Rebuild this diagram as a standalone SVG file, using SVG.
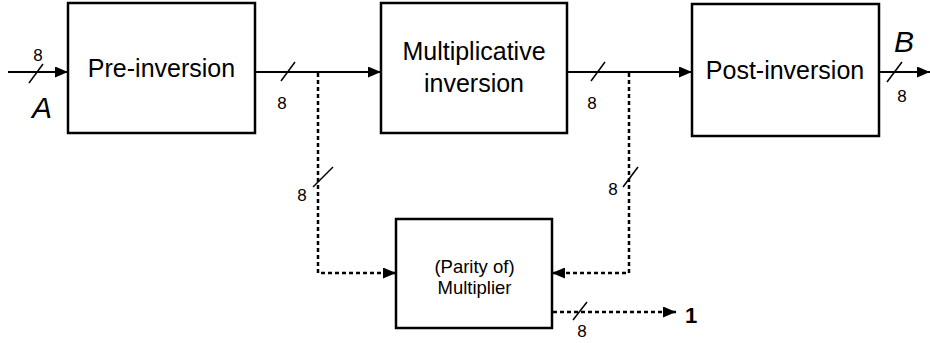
<svg xmlns="http://www.w3.org/2000/svg" width="930" height="343" viewBox="0 0 930 343">
  <style>
    .box { fill: #ffffff; stroke: #000000; stroke-width: 2.5; }
    .label { font-family: "Liberation Sans", Arial, sans-serif; font-size: 25px; fill: #000000; text-anchor: middle; }
    .small { font-family: "Liberation Sans", Arial, sans-serif; font-size: 18.5px; fill: #000000; text-anchor: middle; }
    .width { font-family: "Liberation Sans", Arial, sans-serif; font-size: 17px; fill: #000000; text-anchor: middle; }
    .var { font-family: "Liberation Sans", Arial, sans-serif; font-size: 30px; font-style: italic; fill: #000000; text-anchor: middle; }
    .bit { font-family: "Liberation Sans", Arial, sans-serif; font-size: 22px; font-weight: bold; fill: #000000; text-anchor: middle; }
    .solid { fill: none; stroke: #000000; stroke-width: 2; }
    .dashed { fill: none; stroke: #000000; stroke-width: 2.5; stroke-dasharray: 4 3; }
    .tick { fill: none; stroke: #000000; stroke-width: 1.5; }
  </style>
  <defs>
    <marker id="arrow" markerUnits="userSpaceOnUse" markerWidth="13" markerHeight="11" refX="13" refY="5.5" orient="auto">
      <path d="M0,0 L13,5.5 L0,11 Z" fill="#000000"/>
    </marker>
  </defs>

  <!-- processing blocks -->
  <g id="pre-inversion">
    <rect class="box" x="68" y="3" width="187" height="130"/>
    <text class="label" x="161.5" y="77">Pre-inversion</text>
  </g>
  <g id="multiplicative-inversion">
    <rect class="box" x="381" y="3" width="186" height="130"/>
    <text class="label" x="474" y="60">Multiplicative</text>
    <text class="label" x="474" y="92">inversion</text>
  </g>
  <g id="post-inversion">
    <rect class="box" x="692" y="4" width="187" height="132"/>
    <text class="label" x="785" y="79">Post-inversion</text>
  </g>
  <g id="multiplier">
    <rect class="box" x="396" y="219" width="156" height="109"/>
    <text class="small" x="474.5" y="273">(Parity of)</text>
    <text class="small" x="474.5" y="294">Multiplier</text>
  </g>

  <!-- signal names -->
  <g id="io-labels">
    <text class="var" x="42" y="118">A</text>
    <text class="var" x="904" y="52">B</text>
    <text class="bit" x="691" y="323">1</text>
  </g>

  <!-- connectors with bus-width ticks -->
  <g id="connectors">
    <line class="solid" x1="8" y1="72" x2="68" y2="72" marker-end="url(#arrow)"/>
    <line class="solid" x1="255" y1="72" x2="381" y2="72" marker-end="url(#arrow)"/>
    <line class="solid" x1="567" y1="72" x2="692" y2="72" marker-end="url(#arrow)"/>
    <line class="solid" x1="879" y1="72" x2="930" y2="72" marker-end="url(#arrow)"/>

    <polyline class="dashed" points="318,73 318,273 396,273" marker-end="url(#arrow)"/>
    <polyline class="dashed" points="629,73 629,273 552,273" marker-end="url(#arrow)"/>
    <line class="dashed" x1="553" y1="312" x2="676" y2="312" marker-end="url(#arrow)"/>

    <line class="tick" x1="29" y1="83" x2="43" y2="64"/>
    <line class="tick" x1="281" y1="81" x2="295" y2="62"/>
    <line class="tick" x1="591" y1="81" x2="605" y2="62"/>
    <line class="tick" x1="887" y1="82" x2="902" y2="62"/>
    <line class="tick" x1="313" y1="187" x2="333" y2="167"/>
    <line class="tick" x1="623" y1="187" x2="638" y2="167"/>
    <line class="tick" x1="573" y1="320" x2="587" y2="302"/>

    <text class="width" x="38" y="61">8</text>
    <text class="width" x="282" y="109">8</text>
    <text class="width" x="592" y="109">8</text>
    <text class="width" x="902" y="102">8</text>
    <text class="width" x="302" y="201">8</text>
    <text class="width" x="613" y="195">8</text>
    <text class="width" x="582" y="337">8</text>
  </g>
</svg>
